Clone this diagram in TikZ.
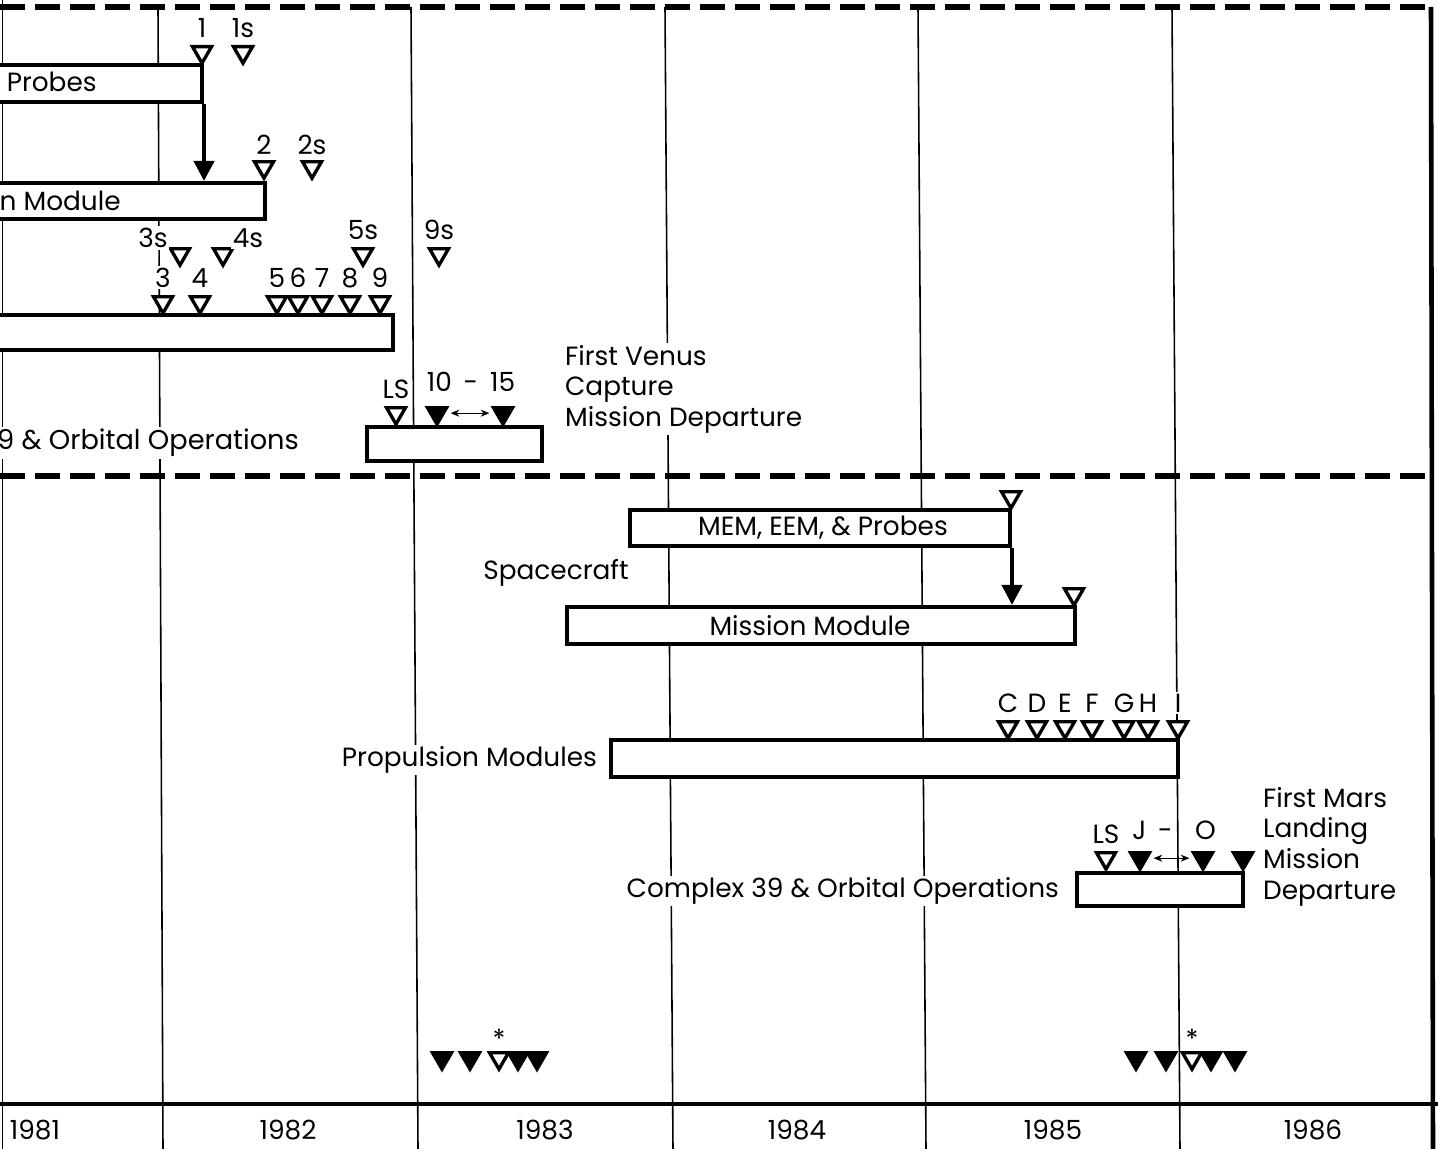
\documentclass[tikz,border=0pt]{standalone}
\usepackage{fontspec}
\setmainfont{Poppins}
\usetikzlibrary{positioning, arrows.meta, shapes.geometric, fit}

\begin{document}
\begin{tikzpicture}[
    x=0.02cm, y=-0.02cm,
    font=\fontsize{15}{17.5}\selectfont,
    >=Stealth,
    % bars of the schedule
    bar/.style={draw, line width=2.3pt, fill=white, inner sep=0pt, rectangle},
    % milestone triangles
    ms/.style={regular polygon, regular polygon sides=3, shape border rotate=180,
        draw, line width=1.9pt, fill=white, minimum size=0.44cm, inner sep=0pt, anchor=north},
    msf/.style={ms, fill=black},
    tag/.style={inner sep=1pt, fill=white},
    every label/.style={inner sep=1pt, fill=white},
    yrline/.style={line width=0.9pt},
    flow/.style={-{Triangle[width=0.4cm, length=0.4cm]}, line width=2.3pt},
    span/.style={{Stealth[length=5pt, width=4pt]}-{Stealth[length=5pt, width=4pt]}, line width=0.7pt},
    sep/.style={line width=3pt, dash pattern=on 0.5cm off 0.2cm}
]
\useasboundingbox (0,0) rectangle (1438,1149);
\clip (0,0) rectangle (1438,1149);

% Grid of years
\foreach \xt/\xb in {158/163, 411/418, 665/673, 918/926, 1172/1180}
    \draw[yrline] (\xt,7) -- (\xb,1149);
\draw[line width=0.5pt] (2,0) -- (2,1149);
\draw[line width=2.6pt] (1431,7) -- (1433,1149);
\draw[sep] (0,7) -- (1431,7);
\draw[sep] (0,476) -- (1431,476);
\draw[line width=2.6pt] (0,1104) -- (1438,1104);

\foreach \xc/\yr in {35/1981, 288/1982, 545/1983, 797/1984, 1053/1985, 1313/1986}
    \node (y\yr) at (\xc,1130) {\yr};

% Venus mission
\node[bar, fit={(-286,65) (202,102)}] (probesV) {};
\node[anchor=east, inner sep=0pt] (probesVlbl) at (97,84) {MEM, EEM, \& Probes};
\node[bar, fit={(-221,183) (265,219)}] (missionV) {};
\node[anchor=east, inner sep=0pt] (missionVlbl) at (121,201) {Mission Module};
\node[bar, fit={(-200,315) (393,350)}] (propV) {};
\node[bar, fit={(367,427) (542,461)}] (opsV) {};
\node[tag, anchor=east, font=\fontsize{15.5}{17.5}\selectfont] (opsVlbl) at (301,443) {Complex 39 \& Orbital Operations};
\draw[flow] (probesV.south east) -- (probesV.south east |- missionV.north);

\node[ms, label={[label distance=3pt]above:1}] (m1) at (202,45) {};
\node[ms, label={[label distance=3pt]above:1s}] (m1s) at (243,45) {};
\node[ms, label={[label distance=2pt]above:2}] (m2) at (264,160) {};
\node[ms, label={[label distance=2pt]above:2s}] (m2s) at (312,160) {};
\node[ms] (m3s) at (180,247) {};
\node[tag] (m3slbl) at (153,238) {3s};
\node[ms] (m4s) at (223,247) {};
\node[tag] (m4slbl) at (248,238) {4s};
\node[ms, label={[label distance=3pt]above:5s}] (m5s) at (363,247) {};
\node[ms, label={[label distance=3pt]above:9s}] (m9s) at (439,247) {};
\foreach \xm/\nm in {163/3, 200/4, 277/5, 298/6, 322/7, 350/8, 380/9}
    \node[ms, label={[label distance=3pt]above:\nm}] (m\nm) at (\xm,295) {};

\node[ms, label={[label distance=3pt]above:LS}] (lsV) at (396,406) {};
\node[msf] (v10) at (437,406) {};
\node[msf] (v15) at (503,406) {};
\node (v1015) at (471,382) {10\hspace{0.45em}-\hspace{0.45em}15};
\draw[span, shorten <=3pt, shorten >=3pt] (v10.east) -- (v15.west);
\node[tag, align=left, anchor=north west] (venus) at (563,343) {First Venus\\Capture\\Mission Departure};

% Mars mission
\node[bar, fit={(630,510) (1010,546)}] (probesM) {};
\node (probesMlbl) at (823,528) {MEM, EEM, \& Probes};
\node[tag] (craft) at (556,573) {Spacecraft};
\node[bar, fit={(567,607) (1075,644)}] (missionM) {};
\node (missionMlbl) at (810,626) {Mission Module};
\node[ms] (mp) at (1011,490) {};
\node[ms] (mm) at (1074,587) {};
\draw[flow] (probesM.south east) -- (probesM.south east |- missionM.north);

\node[bar, fit={(611,740) (1178,777)}] (propM) {};
\node[tag, anchor=east] (propMlbl) at (599,760) {Propulsion Modules};
\foreach \xm/\nm in {1008/C, 1037/D, 1065/E, 1092/F, 1124/G, 1148/H, 1178/I}
    \node[ms, label={[label distance=3pt]above:\nm}] (p\nm) at (\xm,720) {};

\node[bar, fit={(1077,873) (1243,906)}] (opsM) {};
\node[tag, anchor=east] (opsMlbl) at (1061,891) {Complex 39 \& Orbital Operations};
\node[ms, label={[label distance=3pt]above:LS}] (lsM) at (1106,851) {};
\node[msf] (mJ) at (1140,851) {};
\node[msf] (mO) at (1203,851) {};
\node[msf] (mdep) at (1243,851) {};
\node (mJO) at (1174,830) {J\hspace{0.45em}-\hspace{0.85em}O};
\draw[span, shorten <=3pt, shorten >=3pt] (mJ.east) -- (mO.west);
\node[tag, align=left, anchor=north west] (mars) at (1261,785) {First Mars\\Landing\\Mission\\Departure};

% Launch windows
\foreach \xm/\nm in {442/a, 470/b, 518/d, 537/e}
    \node[msf] (w1\nm) at (\xm,1051) {};
\node[ms, label={[label distance=0pt]above:*}] (w1c) at (499,1051) {};
\foreach \xm/\nm in {1136/a, 1166/b, 1211/d, 1235/e}
    \node[msf] (w2\nm) at (\xm,1051) {};
\node[ms, label={[label distance=0pt]above:*}] (w2c) at (1192,1051) {};

\end{tikzpicture}
\end{document}
